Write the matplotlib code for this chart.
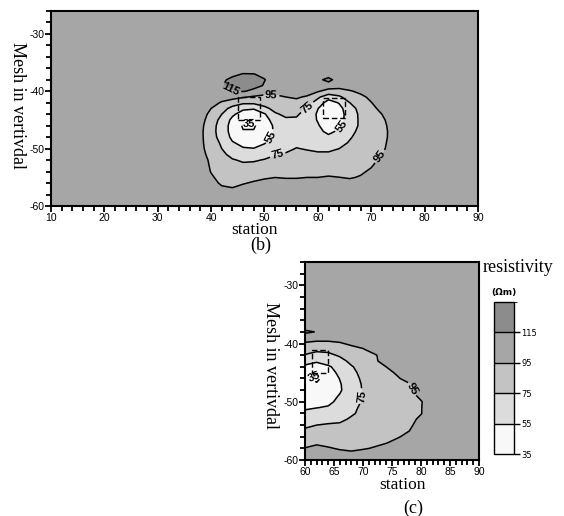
import numpy as np
import matplotlib
matplotlib.use("Agg")
import matplotlib.pyplot as plt
from matplotlib.colors import ListedColormap, BoundaryNorm
from matplotlib.patches import Rectangle
import matplotlib.colorbar as mcolorbar
from matplotlib.ticker import MultipleLocator

plt.rcParams["axes.unicode_minus"] = False

# ---------------- data ----------------
levels = [35, 55, 75, 95, 115]
band_edges = [0, 35, 55, 75, 95, 115, 200]
band_colors = ["#ffffff", "#f8f8f8", "#dcdcdc", "#c3c3c3", "#a6a6a6", "#8c8c8c"]
cbar_edges = [35, 55, 75, 95, 115, 135]
cbar_colors = ["#f8f8f8", "#dcdcdc", "#c3c3c3", "#a6a6a6", "#8c8c8c"]
cbar_ticks = [35, 55, 75, 95, 115]
background = 105

# panel (b): stations 36..76 (step 2), depth rows -59..-35
station_b = list(range(36, 77, 2))
depth_b = list(range(-59, -34))
rho_b = [
    [105]*21,
    [105]*21,
    [105,105,104.7,97.9,96.1,99.6,102.4,104.7,105,105,105,105,105,105,105,105,105,105,105,105,105],
    [105,105,100.7,92.4,90.4,93.9,96.7,99,100.7,99.6,99.6,100.7,100.7,101.8,100.7,99,101.8,105,105,105,105],
    [105,105,97.3,89.3,87.3,88.8,91,93.3,94.8,94,94,94.9,94.9,96,95.1,93.8,96,103,105,105,105],
    [105,104.5,94.3,88.5,85,83.7,85.3,87.6,89.9,89.7,90.4,90.8,90.6,91.3,91,90.9,93,97,104,105,105],
    [105,104,93,85,81,78.6,79.6,81.9,84.7,85.2,86.5,86.7,86.1,86.6,87,87.7,90.7,94,100.6,105,105],
    [105,104.6,91,82,76.6,72.6,73.2,76.1,79.6,80.8,82.9,82.5,81.7,82,83,84.7,87.9,92,97.4,104,105],
    [105,102.2,87.9,79.4,69.2,64.4,64.3,68.6,74,76.3,79.2,78.3,77.2,77.3,79,81.7,85,89.3,95,100.5,105],
    [105,99.8,86.3,75,63.2,56.3,55.4,61.2,67.5,71.7,75.6,73.9,72.1,72,75,79.1,83,88,93,99.4,105],
    [105,99,85.3,72,56.5,50.5,50.1,53.8,62.9,67.8,71.7,69.1,66.7,65.6,70.2,76.5,81.4,86.8,92.3,98.7,105],
    [105,99,83.5,67.2,50.9,41.4,41.1,48.9,59.2,65.2,69,67.3,61.8,59.4,62.4,73.6,80.2,85.7,91.8,98,105],
    [105,99,83,65,48.5,36,36,46.4,57.2,65,67.1,63,60.3,50,58.6,70.3,79.1,85.3,91.6,98,105],
    [105,99.8,83.8,65.5,47.9,33,33,45.6,58.1,67.6,69.1,64,57.1,43,51,65.4,78.1,85,91.9,98.7,105],
    [105,102.2,85.8,69,50.4,38.3,38.2,47.6,63,72.5,72.3,66.2,53.5,40.5,47,65.4,78,85.6,93.1,99.4,105],
    [105,104.6,89.5,75,58.3,46.8,46.2,52.9,72.9,78.3,77.6,67.4,52.5,40,46.8,64.6,78.8,87.6,95,102,105],
    [105,105,95,82.4,69.3,58.3,56.3,70.9,80,83.9,84,73.2,55.6,42,48.5,67.9,80.6,90.7,99.2,105,105],
    [105,105,101.4,93.2,84.1,78.6,79,82,86.25,89.4,90.5,83,66.6,46,56.5,75,84.2,94.4,103.4,105,105],
    [105,105,105,102.2,102.2,97,92.4,90.7,92.5,95,97,93,78.6,63.6,71.9,84.1,90.7,99,105,105,105],
    [105,105,109.4,113.4,114,116,112,102.5,99,100.6,103.4,103,96.7,88.3,87.3,93.2,99,105,105,105,105],
    [105,105,109.9,114.5,119.8,122.5,119,114.1,109,105,105,105,105,105,103.5,105,105,105,105,105,105],
    [105,105,108,112.9,117.7,121.2,119.8,115.4,110.5,105.7,105,105,110,121,105,105,105,105,105,105,105],
    [105,105,105,108.7,112.5,115.5,115.2,113,109.4,105,105,105,105,105,105,105,105,105,105,105,105],
    [105,105,105,105.8,106.6,108.8,109.5,108.6,106.2,105,105,105,105,105,105,105,105,105,105,105,105],
    [105]*21,
]

# panel (c): stations 60..84 (step 2), depth rows -59..-35
station_c = list(range(60, 85, 2))
depth_c = list(range(-59, -34))
rho_c = [
    [101.6,104.6,102.2,99.2,97.4,99.2,102.2,105,105,105,105,105,105],
    [95.6,98.6,96.2,93.75,92.9,94.1,95.8,98.2,101.8,105,105,105,105],
    [89.7,92.6,91.1,89.6,89.3,91.2,92.9,94.5,97.4,102,105,105,105],
    [83.8,86.8,86.2,85.4,85.7,88.3,90.2,92.1,94.3,97.4,102.5,105,105],
    [77.9,80.9,81.3,81.25,82.4,86,88.3,90.5,92.6,95,101,105,105],
    [71.7,75,76.5,77.1,79.3,83.6,86.4,89,91,93.3,98.9,104,105],
    [65,68.1,70.2,71.9,76.9,81.3,84.4,87.5,90,92.4,96.8,102,105],
    [58.3,61.2,63.3,66,73.2,78.5,82.4,85.5,88.6,91.6,94.6,100.7,105],
    [53,54.6,56.4,61,71.4,77.9,81.3,84.5,87.7,91,94.6,100.4,105],
    [49,50,51.7,58.8,68.1,76.6,80.3,84,87.6,91.2,94.4,100.4,105],
    [45.4,45.5,48.75,56.2,65.9,76,80.3,84.5,88.4,92,96.8,102,105],
    [41.9,41,46.2,53,65,76.25,81,85.7,89.9,94.1,98,103.4,105],
    [39.9,36.9,44,53.5,65.6,76.8,82.7,87.3,91.7,94.2,99.5,105,105],
    [40.5,31,44.2,55.6,68.3,78,84.5,89.3,94.1,98.6,104,105,105],
    [44.2,38.5,47.7,58.8,69.8,80.6,87.5,92.2,96.5,101,105,105,105],
    [51.5,47.5,52.9,60.6,73.3,83.1,89.3,95,98.6,102.5,105,105,105],
    [62.1,57.2,61.4,68.6,79.8,87.1,93.4,99,105,105,105,105,105],
    [73.8,68.3,70.5,77.4,84.3,90.8,93.2,102.5,105,105,105,105,105],
    [83.6,79.4,80.3,85.4,90,93.8,102.2,105,105,105,105,105,105],
    [93.1,90.6,90.8,93.4,97.7,101.7,105,105,105,105,105,105,105],
    [102.6,101.6,101.3,101.4,105,105,105,105,105,105,105,105,105],
    [119,114,105,105,105,105,105,105,105,105,105,105,105],
    [105]*13,
    [105]*13,
    [105]*13,
]

# dashed target boxes: (station_left, depth_bottom, width, height)
targets_b = [(45.0, -45.0, 4.2, 4.0), (61.0, -44.7, 4.1, 3.5)]
targets_c = [(61.2, -45.0, 2.8, 3.9)]

# contour label anchors
labels_b = [(44.0, -38.8), (51.3, -40.6), (47.0, -45.3), (51.4, -48.0),
            (52.5, -51.2), (58.0, -42.8), (64.1, -45.8), (71.8, -51.5)]
labels_c = [(61.6, -45.6), (69.5, -49.0), (78.2, -47.8)]

# ---------------- figure ----------------
serif = "Liberation Serif"
sans = "Liberation Sans"

fig = plt.figure(figsize=(5.64, 5.16), dpi=100)
ax_b = fig.add_axes([0.0904, 0.6008, 0.757, 0.378])
ax_c = fig.add_axes([0.5408, 0.1085, 0.3085, 0.3837])
cax = fig.add_axes([0.876, 0.120, 0.0355, 0.2946])


def padded(xs, ys, z, x0, x1, y0, y1):
    X = np.concatenate(([x0], np.asarray(xs, float), [x1]))
    Y = np.concatenate(([y0], np.asarray(ys, float), [y1]))
    Z = np.pad(np.asarray(z, float), 1, constant_values=background)
    if xs[0] == x0:
        X = X[1:]
        Z = Z[:, 1:]
    return X, Y, Z


def draw_panel(ax, X, Y, Z, targets, label_pos, xlim, xmajor, xminor):
    ax.contourf(X, Y, Z, levels=band_edges, colors=band_colors, antialiased=True)
    cs = ax.contour(X, Y, Z, levels=levels, colors="black", linewidths=1.1)
    tl = ax.clabel(cs, fmt="%d", fontsize=8, inline=True, inline_spacing=1,
                   manual=label_pos)
    for t in tl:
        t.set_fontweight("bold")
        t.set_fontfamily(sans)
    for (x0, y0, w, h) in targets:
        ax.add_patch(Rectangle((x0, y0), w, h, fill=False, ec="black",
                               lw=1.0, ls=(0, (4, 2)), zorder=5))
    ax.set_xlim(*xlim)
    ax.set_ylim(-60, -26)
    ax.xaxis.set_major_locator(MultipleLocator(xmajor))
    ax.xaxis.set_minor_locator(MultipleLocator(xminor))
    ax.set_yticks([-60, -50, -40, -30])
    ax.yaxis.set_minor_locator(MultipleLocator(2))
    ax.tick_params(which="major", direction="out", length=4, width=1.3,
                   labelsize=7.5, pad=1)
    ax.tick_params(which="minor", direction="out", length=3.5, width=1.3)
    for lab in ax.get_xticklabels() + ax.get_yticklabels():
        lab.set_fontfamily(sans)
    for sp in ax.spines.values():
        sp.set_linewidth(1.5)


Xb, Yb, Zb = padded(station_b, depth_b, rho_b, 10, 90, -60, -26)
draw_panel(ax_b, Xb, Yb, Zb, targets_b, labels_b, (10, 90), 10, 2)

Xc, Yc, Zc = padded(station_c, depth_c, rho_c, 60, 90, -60, -26)
draw_panel(ax_c, Xc, Yc, Zc, targets_c, labels_c, (60, 90), 5, 1)

# colorbar
cmap = ListedColormap(cbar_colors)
norm = BoundaryNorm(cbar_edges, cmap.N)
cb = mcolorbar.ColorbarBase(cax, cmap=cmap, norm=norm, boundaries=cbar_edges,
                            ticks=cbar_ticks, drawedges=True,
                            orientation="vertical")
cb.outline.set_linewidth(1.0)
cb.dividers.set_linewidth(1.0)
cax.tick_params(direction="out", length=4, width=1.0, labelsize=6, pad=1)
for lab in cax.get_yticklabels():
    lab.set_fontfamily("DejaVu Sans")

# texts
W, H = 564.0, 516.0
fig.text(17 / W, 1 - 106 / H, "Mesh in vertivdal", rotation=270, ha="center",
         va="center", family=serif, fontsize=13)
fig.text(255 / W, 1 - 230 / H, "station", ha="center", va="center",
         family=serif, fontsize=12.5)
fig.text(261 / W, 1 - 245 / H, "(b)", ha="center", va="center",
         family=serif, fontsize=13)
fig.text(270 / W, 1 - 365 / H, "Mesh in vertivdal", rotation=270, ha="center",
         va="center", family=serif, fontsize=13)
fig.text(402 / W, 1 - 485 / H, "station", ha="center", va="center",
         family=serif, fontsize=12.5)
fig.text(413 / W, 1 - 508 / H, "(c)", ha="center", va="center",
         family=serif, fontsize=13)
fig.text(518 / W, 1 - 268 / H, "resistivity", ha="center", va="center",
         family=serif, fontsize=13)
fig.text(504 / W, 1 - 293 / H, "(\u03a9m)", ha="center", va="center",
         family="DejaVu Sans", fontsize=6.5, fontweight="bold")

fig.savefig("out.png", dpi=100)
